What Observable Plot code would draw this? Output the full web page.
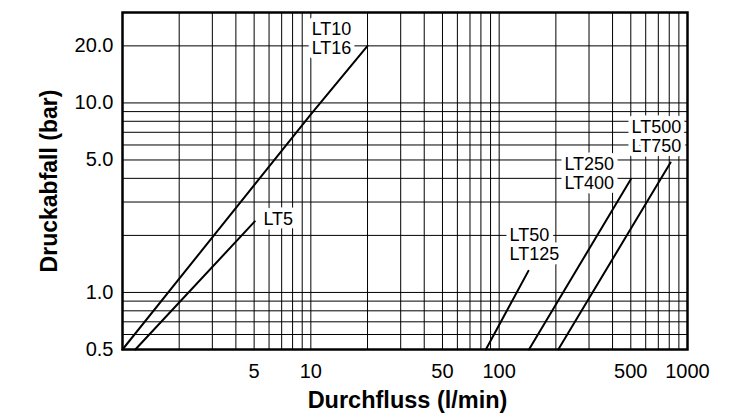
<!DOCTYPE html>
<html><head><meta charset="utf-8">
<script src="https://cdn.jsdelivr.net/npm/d3@7"></script>
<script src="https://cdn.jsdelivr.net/npm/@observablehq/plot@0.6"></script>
<style>body{margin:0;background:#fff;}</style>
</head><body><div id="chart"></div>
<script>
// grid values (log grid)
const xGrid = [1,2,3,4,5,6,7,8,9,10,20,30,40,50,60,70,80,90,100,200,300,400,500,600,700,800,900,1000];
const yGrid = [0.5,0.6,0.7,0.8,0.9,1,2,3,4,5,6,7,8,9,10,20];
// tick labels
const xTicks = [5,10,50,100,500,1000];
const yTicks = [0.5,1,5,10,20];
// series (flow l/min -> pressure drop bar)
const seriesNames = ["LT10/LT16","LT5","LT50/LT125","LT250/LT400","LT500/LT750"];
const flowValues = [[1,10,20],[1.17,5.04],[85,143],[144,500],[206,813]];
const dropValues = [[0.5,8.7,20],[0.5,2.37],[0.5,1.3],[0.5,3.96],[0.5,4.85]];
// labels
const labelTexts = ["LT10","LT16","LT5","LT50","LT125","LT250","LT400","LT500","LT750"];
const labelFlow = [10.1,10.1,5.6,113.6,113.6,222,222,505,505];
const labelDrop = [24.4,19.5,2.44,2.0,1.6,4.72,3.77,7.41,5.94];
const xTitle = "Durchfluss (l/min)";
const yTitle = "Druckabfall (bar)";

const lines = seriesNames.flatMap((s,i)=>flowValues[i].map((f,j)=>({series:s, flow:f, drop:dropValues[i][j]})));
const labels = labelTexts.map((t,i)=>({text:t, flow:labelFlow[i], drop:labelDrop[i]}));

const chart = Plot.plot({
  width:742, height:415,
  marginLeft:122, marginRight:55, marginTop:12, marginBottom:66,
  style:{fontFamily:"'Liberation Sans', Arial, Helvetica, sans-serif", fontSize:"20px", color:"#000", background:"#fff"},
  x:{type:"log", domain:[1,1000], label:null, axis:null},
  y:{type:"log", domain:[0.5,30], label:null, axis:null},
  marks:[
    Plot.ruleX(xGrid, {stroke:"#000", strokeWidth:1}),
    Plot.ruleY(yGrid, {stroke:"#000", strokeWidth:1}),
    Plot.line(lines, {x:"flow", y:"drop", z:"series", stroke:"#000", strokeWidth:2}),
    Plot.text(labels, {x:"flow", y:"drop", text:"text", textAnchor:"start", fontSize:18, fill:"#000", stroke:"#fff", strokeWidth:9, strokeLinejoin:"round", paintOrder:"stroke"}),
    Plot.frame({stroke:"#000", strokeWidth:2.5}),
    Plot.text(xTicks, {x:d=>d, text:d=>String(d), frameAnchor:"bottom", textAnchor:"middle", lineAnchor:"top", dy:14, fontSize:20, fill:"#000"}),
    Plot.text(yTicks, {y:d=>d, text:d=>d.toFixed(1), frameAnchor:"left", textAnchor:"end", lineAnchor:"middle", dx:-9, fontSize:20, fill:"#000"}),
    Plot.text([xTitle], {frameAnchor:"bottom", text:d=>d, textAnchor:"middle", dx:2.5, dy:51, lineAnchor:"middle", fontWeight:"bold", fontSize:23.5, fill:"#000"}),
    Plot.text([yTitle], {frameAnchor:"left", text:d=>d, textAnchor:"middle", rotate:-90, dx:-73, dy:0, lineAnchor:"middle", fontWeight:"bold", fontSize:23, fill:"#000"})
  ]
});
document.getElementById("chart").appendChild(chart);
</script>
</body></html>
